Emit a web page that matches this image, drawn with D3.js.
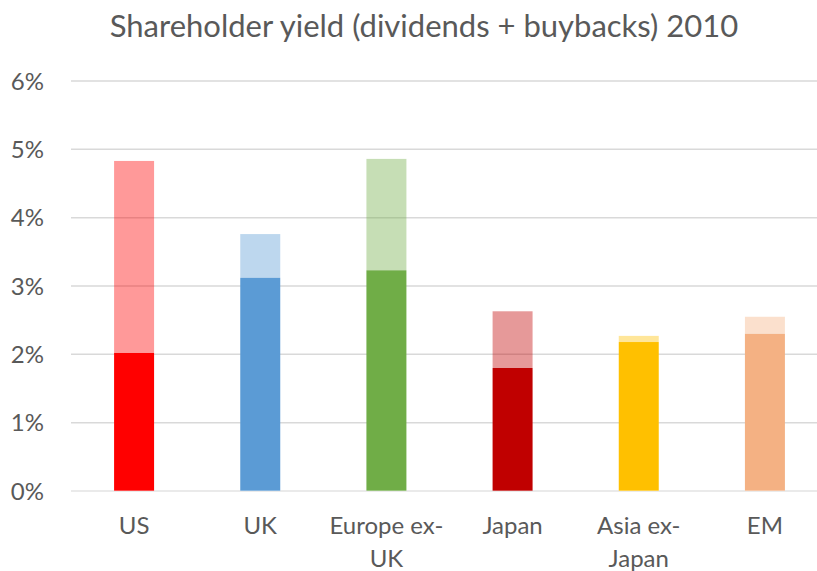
<!DOCTYPE html>
<html>
<head>
<meta charset="utf-8">
<script src="https://cdn.jsdelivr.net/npm/d3@7"></script>
<style>
body { margin:0; background:#fff; }
svg { display:block; font-family: Lato, "Open Sans", sans-serif; }
</style>
</head>
<body>
<svg></svg>
<script>
var screen = {width:817, height:571}
var margins = {top:81, left:71}

var regions = ["US", "UK", "Europe ex-UK", "Japan", "Asia ex-Japan", "EM"]
var labelLines = [["US"], ["UK"], ["Europe ex-", "UK"], ["Japan"], ["Asia ex-", "Japan"], ["EM"]]
var dividends = [2.02, 3.12, 3.23, 1.80, 2.18, 2.30]
var buybacks = [2.81, 0.64, 1.63, 0.83, 0.09, 0.25]
var colors = ["#FF0000", "#5B9BD5", "#70AD47", "#C00000", "#FFC000", "#F4B183"]
var yTicks = [0, 1, 2, 3, 4, 5, 6]

var svg = d3.select("svg")
  .attr("width", screen.width)
  .attr("height", screen.height)

var xScale = d3.scaleBand()
  .domain(regions)
  .range([71, 828])
  .paddingInner(0.683)
  .paddingOuter(0.3415)

var yScale = d3.scaleLinear()
  .domain([0, 6])
  .range([491, 81])

// title
svg.append("text")
  .attr("x", 424)
  .attr("y", 37)
  .attr("text-anchor", "middle")
  .attr("fill", "#595959")
  .style("font-size", "31px")
  .text("Shareholder yield (dividends + buybacks) 2010")

// gridlines
svg.append("g")
  .selectAll("line")
  .data(yTicks)
  .enter()
  .append("line")
  .attr("x1", 71)
  .attr("x2", 830)
  .attr("y1", function(d) { return yScale(d) })
  .attr("y2", function(d) { return yScale(d) })
  .attr("stroke", "#D9D9D9")
  .attr("stroke-width", 1.5)

// y labels
svg.append("g")
  .selectAll("text")
  .data(yTicks)
  .enter()
  .append("text")
  .attr("x", 44)
  .attr("y", function(d) { return yScale(d) })
  .attr("dy", "0.36em")
  .attr("text-anchor", "end")
  .attr("fill", "#595959")
  .style("font-size", "24px")
  .text(function(d) { return d + "%" })

// dividends
svg.append("g")
  .selectAll("rect")
  .data(regions)
  .enter()
  .append("rect")
  .attr("x", function(d) { return xScale(d) })
  .attr("width", xScale.bandwidth())
  .attr("y", function(d, i) { return yScale(dividends[i]) })
  .attr("height", function(d, i) { return yScale(0) - yScale(dividends[i]) })
  .attr("fill", function(d, i) { return colors[i] })

// buybacks, translucent
svg.append("g")
  .selectAll("rect")
  .data(regions)
  .enter()
  .append("rect")
  .attr("x", function(d) { return xScale(d) })
  .attr("width", xScale.bandwidth())
  .attr("y", function(d, i) { return yScale(dividends[i] + buybacks[i]) })
  .attr("height", function(d, i) { return yScale(dividends[i]) - yScale(dividends[i] + buybacks[i]) })
  .attr("fill", function(d, i) { return colors[i] })
  .attr("fill-opacity", 0.4)

// zero line over the bars
svg.append("line")
  .attr("x1", 71)
  .attr("x2", 830)
  .attr("y1", yScale(0))
  .attr("y2", yScale(0))
  .attr("stroke", "#fff")
  .attr("stroke-opacity", 0.4)
  .attr("stroke-width", 1.5)

// category labels
var cats = svg.append("g")
  .selectAll("text")
  .data(regions)
  .enter()
  .append("text")
  .attr("text-anchor", "middle")
  .attr("fill", "#595959")
  .style("font-size", "24px")

cats.selectAll("tspan")
  .data(function(d, i) { return labelLines[i].map(function(t) { return {t:t, x:xScale(d) + xScale.bandwidth() / 2} }) })
  .enter()
  .append("tspan")
  .attr("x", function(d) { return d.x })
  .attr("y", function(d, j) { return 534 + j * 33 })
  .text(function(d) { return d.t })
</script>
</body>
</html>
